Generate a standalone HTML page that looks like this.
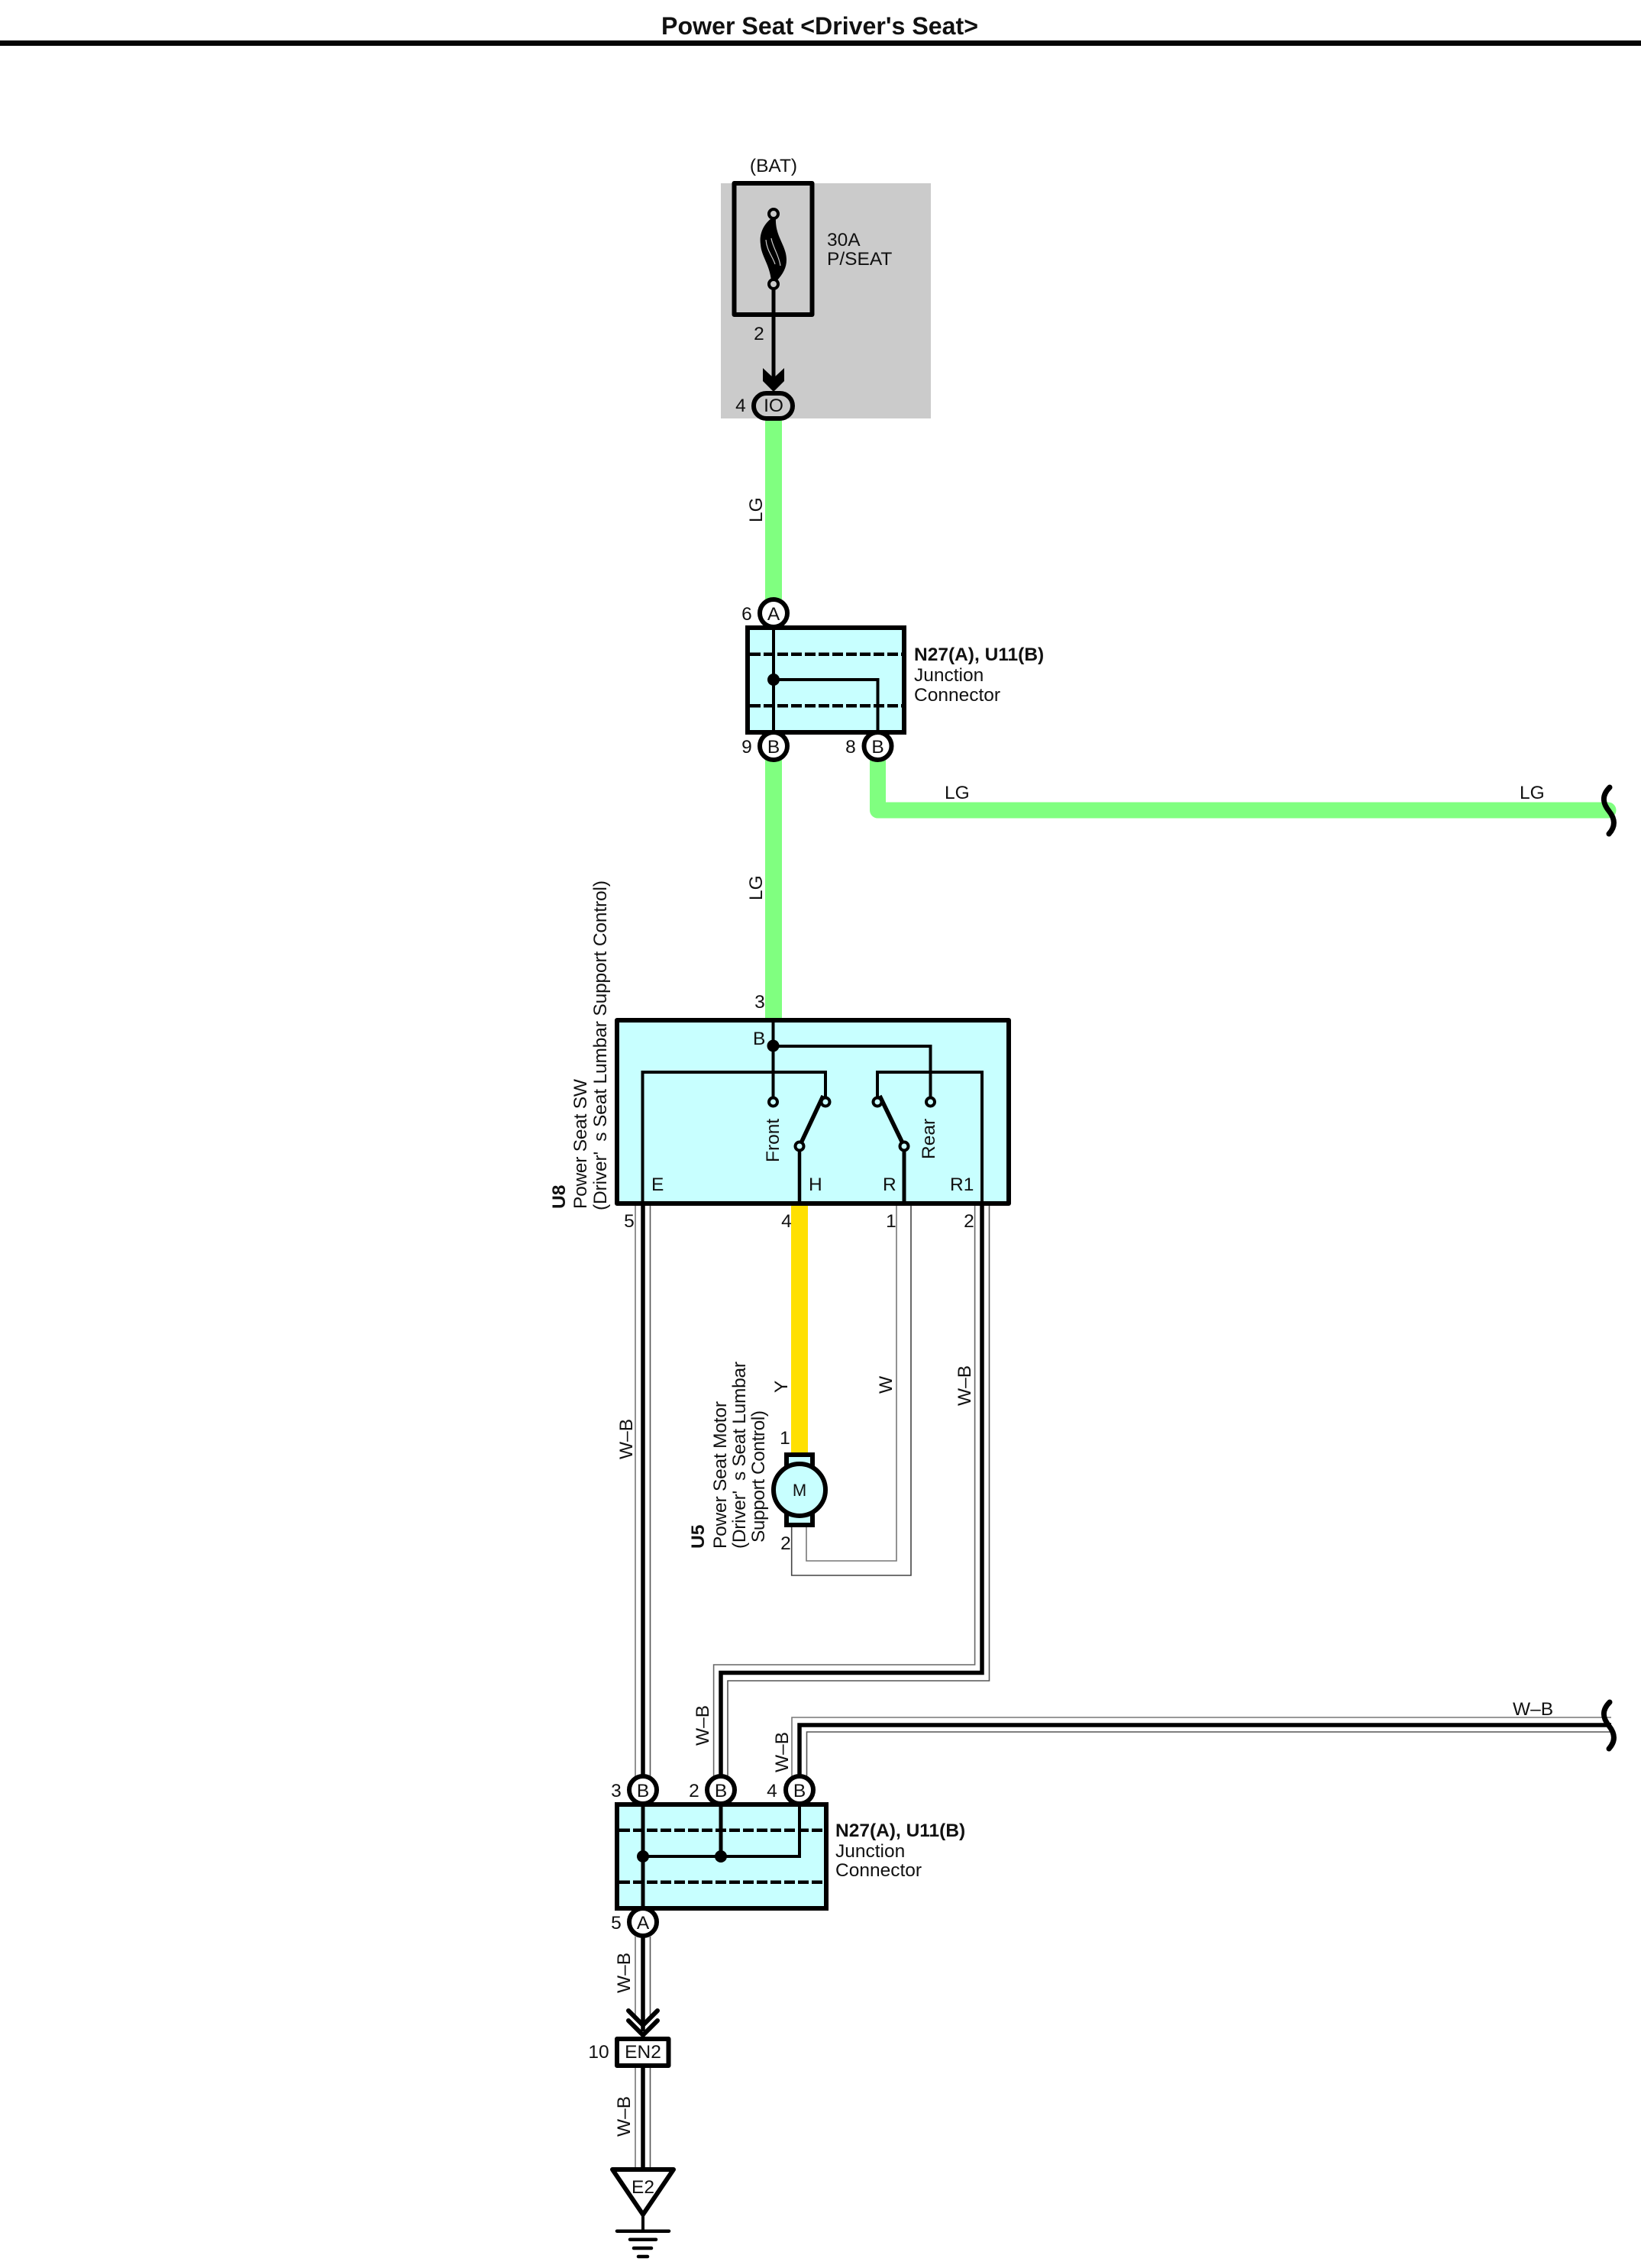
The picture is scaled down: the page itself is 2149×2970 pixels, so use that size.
<!DOCTYPE html>
<html>
<head>
<meta charset="utf-8">
<title>Power Seat</title>
<style>
html,body{margin:0;padding:0;background:#fff;}
svg{display:block;}
text{font-family:"Liberation Sans",sans-serif;font-size:24.5px;fill:#111;}
.b{font-weight:bold;}
.m{text-anchor:middle;}
</style>
</head>
<body>
<svg xmlns="http://www.w3.org/2000/svg" width="2149" height="2970" viewBox="0 0 2149 2970">
<rect width="2149" height="2970" fill="#fff"/>

<!-- title -->
<text x="866" y="45" class="b" style="font-size:32px" textLength="415" lengthAdjust="spacingAndGlyphs">Power Seat &lt;Driver's Seat&gt;</text>
<rect x="0" y="53" width="2149" height="7" fill="#050505"/>

<!-- fuse block -->
<rect x="944" y="240" width="275" height="308" fill="#cbcbcb"/>
<rect x="961.5" y="240" width="102" height="172" fill="none" stroke="#000" stroke-width="6" stroke-linejoin="round"/>
<path d="M1010,286 C1000,294 994,306 996,320 C997,336 1008,346 1010,368 L1017,368 C1028,356 1032,346 1029,332 C1026,318 1015,306 1016,286 Z" fill="#000"/>
<path d="M1003,314 C1004,328 1012,336 1015,346 M1010,312 C1012,324 1020,334 1022,348" fill="none" stroke="#cbcbcb" stroke-width="1.2"/>
<circle cx="1013" cy="280" r="6" fill="#cbcbcb" stroke="#000" stroke-width="4"/>
<line x1="1013" y1="378" x2="1013" y2="500" stroke="#000" stroke-width="5"/>
<circle cx="1013" cy="372" r="6" fill="#cbcbcb" stroke="#000" stroke-width="4"/>
<path d="M999,482 L1013,495 L1027,482 L1027,499 L1013,513 L999,499 Z" fill="#000"/>
<text x="1013" y="225" class="m">(BAT)</text>
<text x="1083" y="322">30A</text>
<text x="1083" y="347">P/SEAT</text>
<text x="994" y="445" class="m">2</text>
<text x="970" y="539" class="m">4</text>

<!-- green wires -->
<rect x="1002" y="550" width="22" height="240" fill="#80ff80"/>
<rect x="1002" y="990" width="22" height="346" fill="#80ff80"/>
<path d="M1149.5,990 V1061 H2106" fill="none" stroke="#80ff80" stroke-width="21" stroke-linejoin="round" stroke-linecap="round"/>
<rect x="1139" y="985" width="21" height="20" fill="#80ff80"/>

<!-- IO connector -->
<rect x="987" y="515" width="51" height="33" rx="16.5" fill="#cbcbcb" stroke="#000" stroke-width="6"/>
<text x="1013" y="539" class="m">IO</text>

<text transform="translate(998,684) rotate(-90)">LG</text>
<text transform="translate(998,1179) rotate(-90)">LG</text>
<text x="1237" y="1046">LG</text>
<text x="1990" y="1046">LG</text>
<path d="M2108,1031 C2097,1042 2099,1052 2107,1062 C2115,1072 2116,1082 2107,1092" fill="none" stroke="#000" stroke-width="7" stroke-linecap="round"/>

<!-- top junction connector -->
<rect x="979" y="822" width="205" height="137" fill="#c8ffff" stroke="#000" stroke-width="6"/>
<line x1="982" y1="856.7" x2="1181" y2="856.7" stroke="#000" stroke-width="4.5" stroke-dasharray="14,4"/>
<line x1="982" y1="924.3" x2="1181" y2="924.3" stroke="#000" stroke-width="4.5" stroke-dasharray="14,4"/>
<line x1="1013" y1="810" x2="1013" y2="970" stroke="#000" stroke-width="4"/>
<path d="M1013,890 H1149.5 V970" fill="none" stroke="#000" stroke-width="4"/>
<circle cx="1013" cy="890" r="8" fill="#000"/>
<circle cx="1013" cy="803" r="18" fill="#fff" stroke="#000" stroke-width="6"/>
<circle cx="1013" cy="977" r="18" fill="#fff" stroke="#000" stroke-width="6"/>
<circle cx="1149.5" cy="977" r="18" fill="#fff" stroke="#000" stroke-width="6"/>
<text x="1013" y="812" class="m">A</text>
<text x="1013" y="986" class="m">B</text>
<text x="1149.5" y="986" class="m">B</text>
<text x="978" y="812" class="m">6</text>
<text x="978" y="986" class="m">9</text>
<text x="1114" y="986" class="m">8</text>
<text x="1197" y="865" class="b">N27(A), U11(B)</text>
<text x="1197" y="892">Junction</text>
<text x="1197" y="918">Connector</text>

<!-- switch wires below box -->
<rect x="1036" y="1578" width="22" height="326" fill="#ffe000"/>
<g fill="none" stroke-width="1.6">
  <path d="M832,1578 V2344" stroke="#777"/>
  <path d="M851.5,1578 V2344" stroke="#555"/>
  <path d="M1174,1578 V2044 H1056 V2000" stroke="#777"/>
  <path d="M1193,1578 V2063 H1036.7 V2000" stroke="#444"/>
  <path d="M1276.6,1578 V2180 H934.6 V2340" stroke="#666"/>
  <path d="M1295.5,1578 V2201 H953 V2340" stroke="#555"/>
  <path d="M2110,2249 H1037 V2340" stroke="#777"/>
  <path d="M2110,2268 H1056.5 V2340" stroke="#555"/>
</g>
<path d="M842,1578 V2344" fill="none" stroke="#000" stroke-width="5.5"/>
<path d="M1286,1578 V2190.5 H944 V2344" fill="none" stroke="#000" stroke-width="5.5"/>
<path d="M2110,2259 H1047 V2344" fill="none" stroke="#000" stroke-width="5.5"/>
<path d="M2108,2229 C2097,2240 2099,2250 2107,2260 C2115,2270 2116,2280 2107,2290" fill="none" stroke="#000" stroke-width="7" stroke-linecap="round"/>

<!-- switch box -->
<rect x="808" y="1336" width="513" height="240" fill="#c8ffff" stroke="#000" stroke-width="6" stroke-linejoin="round"/>
<g fill="none" stroke="#000" stroke-width="4">
  <path d="M1012.5,1339 V1443"/>
  <path d="M1012.5,1370 H1218.5 V1443"/>
  <path d="M841.5,1578 V1404 H1081 V1443"/>
  <path d="M1149,1443 V1404 H1286 V1578"/>
  <path d="M1047,1501 V1578" stroke-width="4.5"/>
  <path d="M1184,1501 V1578" stroke-width="5"/>
  <path d="M1047,1501 L1078,1435" stroke-width="5.5"/>
  <path d="M1152,1435 L1184,1501" stroke-width="5.5"/>
</g>
<circle cx="1012.5" cy="1369.5" r="8" fill="#000"/>
<g fill="#c8ffff" stroke="#000" stroke-width="4">
  <circle cx="1012.5" cy="1443" r="5.5"/>
  <circle cx="1081" cy="1443" r="5.5"/>
  <circle cx="1149" cy="1443" r="5.5"/>
  <circle cx="1218.5" cy="1443" r="5.5"/>
  <circle cx="1047" cy="1501" r="5.5"/>
  <circle cx="1184" cy="1501" r="5.5"/>
</g>
<text x="986" y="1368">B</text>
<text transform="translate(1020,1522) rotate(-90)">Front</text>
<text transform="translate(1224,1518) rotate(-90)">Rear</text>
<text x="853" y="1559">E</text>
<text x="1059" y="1559">H</text>
<text x="1156" y="1559">R</text>
<text x="1244" y="1559">R1</text>
<text x="995" y="1320" class="m">3</text>
<text x="824" y="1607" class="m">5</text>
<text x="1030" y="1607" class="m">4</text>
<text x="1167" y="1607" class="m">1</text>
<text x="1269" y="1607" class="m">2</text>

<text transform="translate(740,1583) rotate(-90)" class="b">U8</text>
<text transform="translate(768,1583) rotate(-90)" textLength="170">Power Seat SW</text>
<text transform="translate(794,1585) rotate(-90)" textLength="432">(Driver'&#160;&#160;s Seat Lumbar Support Control)</text>

<!-- wire labels -->
<text transform="translate(1031,1824) rotate(-90)">Y</text>
<text transform="translate(1168,1825) rotate(-90)">W</text>
<text transform="translate(1271,1841) rotate(-90)">W–B</text>
<text transform="translate(828,1911) rotate(-90)">W–B</text>
<text transform="translate(928,2286) rotate(-90)">W–B</text>
<text transform="translate(1032,2321) rotate(-90)">W–B</text>
<text x="1981" y="2246">W–B</text>

<!-- motor -->
<rect x="1030" y="1905" width="34" height="92" fill="#c8ffff" stroke="#000" stroke-width="6"/>
<circle cx="1047" cy="1951" r="34" fill="#c8ffff" stroke="#000" stroke-width="6"/>
<text x="1047" y="1959" class="m" style="font-size:22px">M</text>
<text x="1028" y="1891" class="m">1</text>
<text x="1029" y="2029" class="m">2</text>
<text transform="translate(922,2028) rotate(-90)" class="b">U5</text>
<text transform="translate(951,2028) rotate(-90)" textLength="193">Power Seat Motor</text>
<text transform="translate(976,2028) rotate(-90)" textLength="245">(Driver'&#160;&#160;s Seat Lumbar</text>
<text transform="translate(1001,2020) rotate(-90)" textLength="173">Support Control)</text>

<!-- lower junction connector -->
<rect x="808" y="2363" width="274" height="136" fill="#c8ffff" stroke="#000" stroke-width="6"/>
<line x1="811" y1="2396.7" x2="1079" y2="2396.7" stroke="#000" stroke-width="4.5" stroke-dasharray="14,4"/>
<line x1="811" y1="2464.7" x2="1079" y2="2464.7" stroke="#000" stroke-width="4.5" stroke-dasharray="14,4"/>
<line x1="842" y1="2350" x2="842" y2="2505" stroke="#000" stroke-width="5"/>
<line x1="944" y1="2350" x2="944" y2="2431" stroke="#000" stroke-width="5"/>
<path d="M842,2431 H1047 V2350" fill="none" stroke="#000" stroke-width="4"/>
<circle cx="842" cy="2431" r="8" fill="#000"/>
<circle cx="944" cy="2431" r="8" fill="#000"/>
<g fill="#fff" stroke="#000" stroke-width="6">
  <circle cx="842" cy="2344" r="18"/>
  <circle cx="944" cy="2344" r="18"/>
  <circle cx="1047" cy="2344" r="18"/>
  <circle cx="842" cy="2517" r="18"/>
</g>
<text x="842" y="2353" class="m">B</text>
<text x="944" y="2353" class="m">B</text>
<text x="1047" y="2353" class="m">B</text>
<text x="842" y="2526" class="m">A</text>
<text x="807" y="2353" class="m">3</text>
<text x="909" y="2353" class="m">2</text>
<text x="1011" y="2353" class="m">4</text>
<text x="807" y="2526" class="m">5</text>
<text x="1094" y="2405" class="b">N27(A), U11(B)</text>
<text x="1094" y="2432">Junction</text>
<text x="1094" y="2457">Connector</text>

<!-- bottom wires to ground -->
<g fill="none" stroke-width="1.6">
  <path d="M832,2535 V2640" stroke="#777"/>
  <path d="M851.5,2535 V2640" stroke="#555"/>
  <path d="M832,2706 V2840" stroke="#777"/>
  <path d="M851.5,2706 V2840" stroke="#555"/>
</g>
<path d="M842,2536 V2660" fill="none" stroke="#000" stroke-width="5.5"/>
<path d="M842,2706 V2842" fill="none" stroke="#000" stroke-width="5.5"/>
<path d="M823,2633 L842,2652 L861,2633 M823,2646 L842,2665 L861,2646" fill="none" stroke="#000" stroke-width="6" stroke-linecap="round"/>
<rect x="808" y="2670" width="67.5" height="35" fill="#fff" stroke="#000" stroke-width="6" stroke-linejoin="round"/>
<text x="842" y="2695" class="m">EN2</text>
<text x="784" y="2695" class="m">10</text>
<text transform="translate(825,2610) rotate(-90)">W–B</text>
<text transform="translate(825,2798) rotate(-90)">W–B</text>
<path d="M802,2841 H882 L842,2900 Z" fill="#fff" stroke="#000" stroke-width="6" stroke-linejoin="round"/>
<line x1="842" y1="2838" x2="842" y2="2844" stroke="#000" stroke-width="5.5"/>
<text x="842" y="2872" class="m">E2</text>
<line x1="842" y1="2900" x2="842" y2="2921" stroke="#000" stroke-width="4"/>
<g stroke="#000" stroke-linecap="round" stroke-width="4.5">
  <line x1="808" y1="2921.7" x2="876" y2="2921.7"/>
  <line x1="825" y1="2932.7" x2="859" y2="2932.7"/>
  <line x1="830" y1="2944" x2="853" y2="2944"/>
  <line x1="836" y1="2955" x2="848" y2="2955"/>
</g>
</svg>
</body>
</html>
